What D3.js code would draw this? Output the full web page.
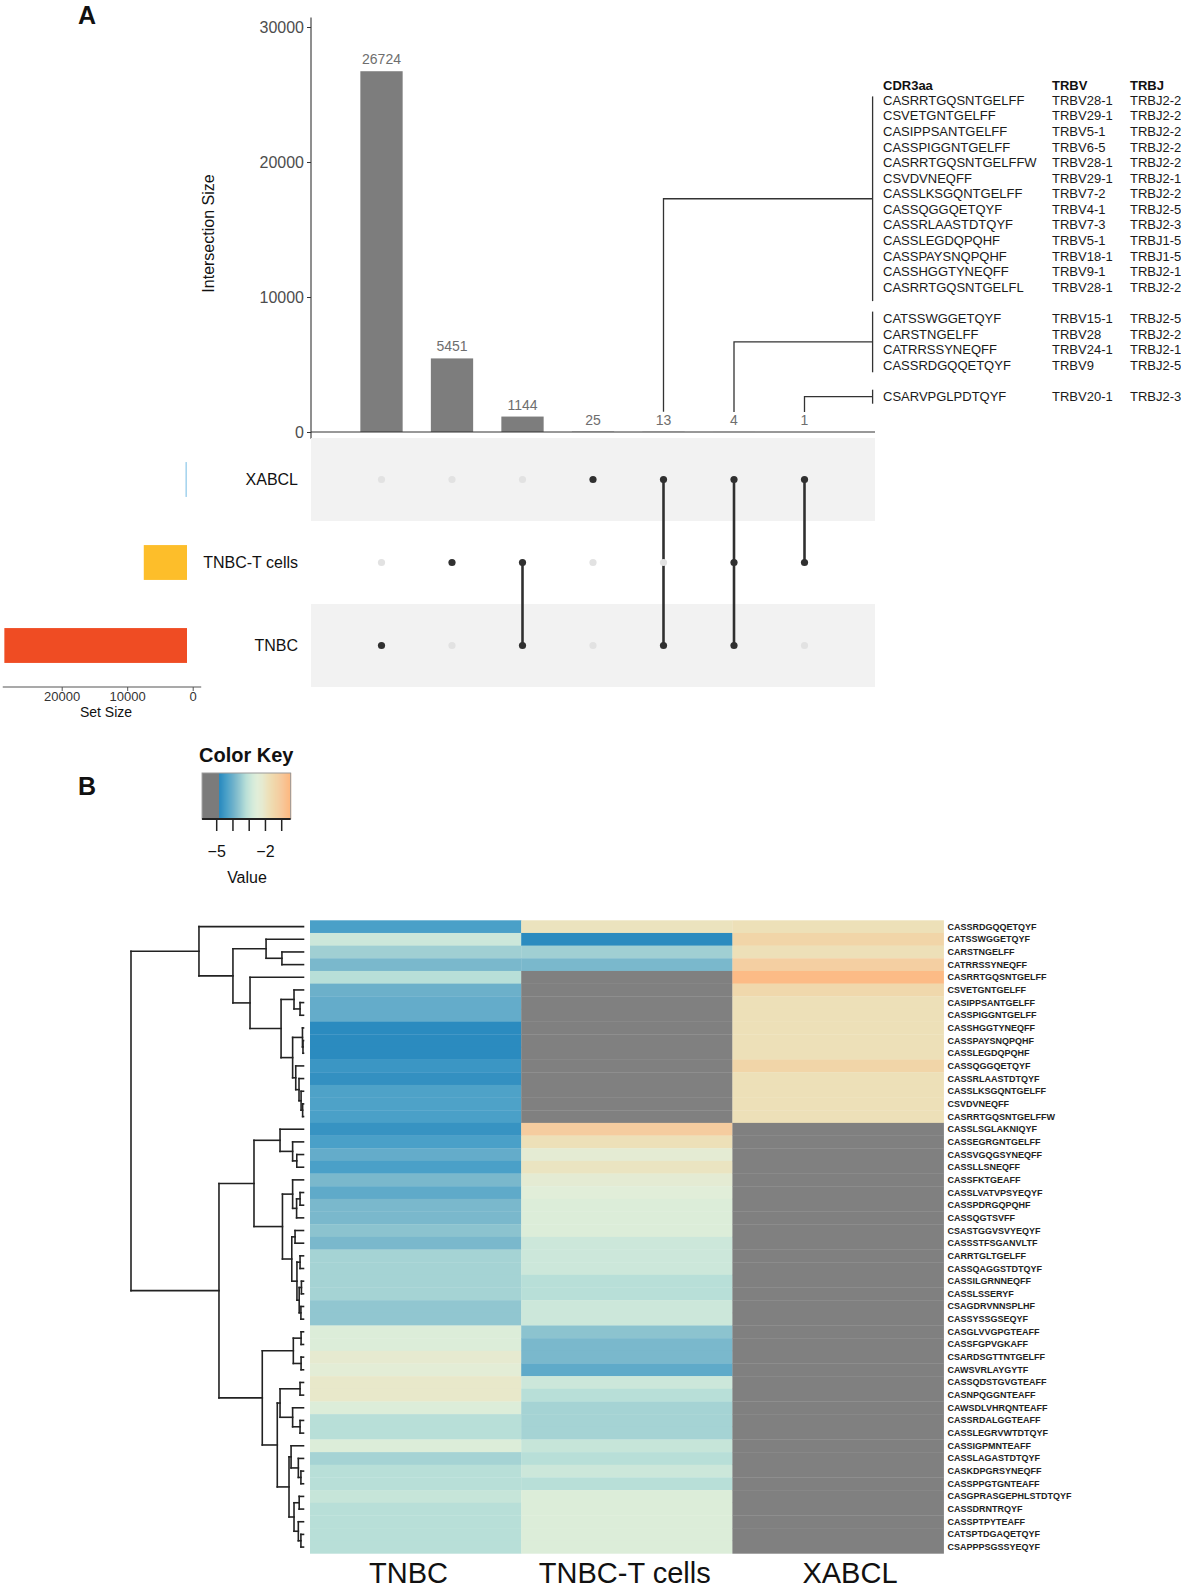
<!DOCTYPE html>
<html><head><meta charset="utf-8">
<script src="https://cdn.jsdelivr.net/npm/d3@7"></script>
<style>html,body{margin:0;padding:0;background:#fff;overflow:hidden}svg{display:block;font-family:"Liberation Sans",Arial,Helvetica,sans-serif}</style>
</head><body>
<svg id="chart" width="1181" height="1591"></svg>
<script>
// ---------------- DATA ----------------
const intersectionSizes = [26724, 5451, 1144, 25, 13, 4, 1];
const setNames = ["XABCL", "TNBC-T cells", "TNBC"];
const intersectionMembers = [
  ["TNBC"], ["TNBC-T cells"], ["TNBC-T cells", "TNBC"], ["XABCL"],
  ["XABCL", "TNBC"], ["XABCL", "TNBC-T cells", "TNBC"], ["XABCL", "TNBC-T cells"]
];
const setSizes = [43, 6600, 27885];
const setColors = ["#a8d5ee", "#fdbe2a", "#ef4c23"];
const intersectionTicks = [0, 10000, 20000, 30000];
const setSizeTicks = [0, 10000, 20000];

const tableHeader = ["CDR3aa", "TRBV", "TRBJ"];
const tableGroup13 = [
  ["CASRRTGQSNTGELFF", "TRBV28-1", "TRBJ2-2"],
  ["CSVETGNTGELFF", "TRBV29-1", "TRBJ2-2"],
  ["CASIPPSANTGELFF", "TRBV5-1", "TRBJ2-2"],
  ["CASSPIGGNTGELFF", "TRBV6-5", "TRBJ2-2"],
  ["CASRRTGQSNTGELFFW", "TRBV28-1", "TRBJ2-2"],
  ["CSVDVNEQFF", "TRBV29-1", "TRBJ2-1"],
  ["CASSLKSGQNTGELFF", "TRBV7-2", "TRBJ2-2"],
  ["CASSQGGQETQYF", "TRBV4-1", "TRBJ2-5"],
  ["CASSRLAASTDTQYF", "TRBV7-3", "TRBJ2-3"],
  ["CASSLEGDQPQHF", "TRBV5-1", "TRBJ1-5"],
  ["CASSPAYSNQPQHF", "TRBV18-1", "TRBJ1-5"],
  ["CASSHGGTYNEQFF", "TRBV9-1", "TRBJ2-1"],
  ["CASRRTGQSNTGELFL", "TRBV28-1", "TRBJ2-2"]
];
const tableGroup4 = [
  ["CATSSWGGETQYF", "TRBV15-1", "TRBJ2-5"],
  ["CARSTNGELFF", "TRBV28", "TRBJ2-2"],
  ["CATRRSSYNEQFF", "TRBV24-1", "TRBJ2-1"],
  ["CASSRDGQQETQYF", "TRBV9", "TRBJ2-5"]
];
const tableGroup1 = [
  ["CSARVPGLPDTQYF", "TRBV20-1", "TRBJ2-3"]
];

const heatColumns = ["TNBC", "TNBC-T cells", "XABCL"];
const heatRows = [
  "CASSRDGQQETQYF","CATSSWGGETQYF","CARSTNGELFF","CATRRSSYNEQFF","CASRRTGQSNTGELFF",
  "CSVETGNTGELFF","CASIPPSANTGELFF","CASSPIGGNTGELFF","CASSHGGTYNEQFF","CASSPAYSNQPQHF",
  "CASSLEGDQPQHF","CASSQGGQETQYF","CASSRLAASTDTQYF","CASSLKSGQNTGELFF","CSVDVNEQFF",
  "CASRRTGQSNTGELFFW","CASSLSGLAKNIQYF","CASSEGRGNTGELFF","CASSVGQGSYNEQFF","CASSLLSNEQFF",
  "CASSFKTGEAFF","CASSLVATVPSYEQYF","CASSPDRGQPQHF","CASSQGTSVFF","CSASTGGVSVYEQYF",
  "CASSSTFSGANVLTF","CARRTGLTGELFF","CASSQAGGSTDTQYF","CASSILGRNNEQFF","CASSLSSERYF",
  "CSAGDRVNNSPLHF","CASSYSSGSEQYF","CASGLVVGPGTEAFF","CASSFGPVGKAFF","CSARDSGTTNTGELFF",
  "CAWSVRLAYGYTF","CASSQDSTGVGTEAFF","CASNPQGGNTEAFF","CAWSDLVHRQNTEAFF","CASSRDALGGTEAFF",
  "CASSLEGRVWTDTQYF","CASSIGPMNTEAFF","CASSLAGASTDTQYF","CASKDPGRSYNEQFF","CASSPPGTGNTEAFF",
  "CASGPRASGEPHLSTDTQYF","CASSDRNTRQYF","CASSPTPYTEAFF","CATSPTDGAQETQYF","CSAPPPSGSSYEQYF"
];
const tnbcValues = [
  -4.4,-2.9,-3.45,-3.85,-3.2,-4.0,-4.1,-4.1,-4.8,-4.8,
  -4.8,-4.6,-4.7,-4.35,-4.35,-4.4,-4.65,-4.4,-4.1,-4.4,
  -3.85,-4.15,-3.85,-3.85,-3.65,-3.85,-3.4,-3.4,-3.4,-3.4,
  -3.6,-3.6,-2.6,-2.6,-2.2,-2.4,-2.1,-2.1,-2.6,-3.2,
  -3.2,-2.6,-3.4,-3.2,-3.2,-3.0,-3.2,-3.2,-3.2,-3.2
];
const tnbcTValues = [
  -1.9,-4.8,-3.45,-3.85,null,null,null,null,null,null,
  null,null,null,null,null,null,-1.1,-1.8,-2.3,-1.95,
  -2.3,-2.5,-2.6,-2.6,-2.6,-2.9,-2.9,-2.9,-3.2,-3.2,
  -2.9,-2.9,-3.65,-3.85,-3.85,-4.15,-2.9,-3.2,-3.4,-3.4,
  -3.4,-3.0,-3.2,-2.9,-3.2,-2.6,-2.6,-2.6,-2.6,-2.6
];
const xabclValues = [
  -1.8,-1.4,-1.8,-1.2,-0.6,-1.5,-1.8,-1.8,-1.8,-1.8,
  -1.8,-1.4,-1.8,-1.8,-1.8,-1.8,null,null,null,null,
  null,null,null,null,null,null,null,null,null,null,
  null,null,null,null,null,null,null,null,null,null,
  null,null,null,null,null,null,null,null,null,null
];
const keyTicks = [-5, -4, -3, -2, -1];
const keyLabels = [-5, -2];
const colorStops = [-4.8, -4.4, -4.0, -3.6, -3.2, -2.8, -2.5, -2.2, -1.8, -1.4, -1.0, -0.5];
const colorValues = ["#2b8bbf","#4aa0c8","#6cb0ca","#91c6d0","#b8dfd8","#d3eada","#e1eed9","#e6ead0","#ede0b8","#f1d5a8","#f6c99c","#fdb880"];
// row dendrogram: [height, left, right]; leaves are row indices
const rowDendrogram = [100,
  [60.6, 0, [40.9, [21.7, 1, [12.5, 2, 3]],
    [31, 4, [13, [5.5, 5, [2, 6, 7]],
      [6.3, [0.6, 8, [0.3, 9, 10]], [4.5, 11, [2.6, 12, [1.4, 13, [0.5, 14, 15]]]]]]]]],
  [49,
    [28.7,
      [13.6, 16, [6.3, 17, [3.9, 18, 19]]],
      [12.2,
        [6.3, 20, [4, [2, 21, 22], 23]],
        [6.8, [4.9, 24, 25], [3.8, [2, 26, 27], [2.5, [1.2, 28, 29], [1.5, 30, 31]]]]]],
    [23.9,
      [5.9, [1.4, 32, 33], [1.4, 34, 35]],
      [15.2,
        [13.6, [2, 36, 37], [6.3, 38, [2, 39, 40]]],
        [8.4, [7.2, 41, [3, 42, [1.5, 43, 44]]], [5.5, [2.5, 45, 46], [3, 47, [1.5, 48, 49]]]]]]]
];

// ---------------- DRAW ----------------
const svg = d3.select("#chart");
const INK = "#222";

// Panel labels
svg.append("text").attr("x", 78).attr("y", 24).attr("font-size", 25).attr("font-weight", "bold").attr("fill", "#111").text("A");
svg.append("text").attr("x", 78).attr("y", 795).attr("font-size", 25).attr("font-weight", "bold").attr("fill", "#111").text("B");

// ---- Upset: intersection bars ----
const xI = d3.scaleBand().domain(d3.range(intersectionSizes.length)).range([311, 875]).paddingInner(0.4).paddingOuter(0.7);
const yI = d3.scaleLinear().domain([0, 30000]).range([432, 27]);

const gTop = svg.append("g");
gTop.selectAll("rect.bar").data(intersectionSizes).join("rect")
  .attr("x", (d, i) => xI(i)).attr("width", xI.bandwidth())
  .attr("y", d => yI(d)).attr("height", d => yI(0) - yI(d)).attr("fill", "#7d7d7d");
gTop.selectAll("text.cnt").data(intersectionSizes).join("text")
  .attr("x", (d, i) => xI(i) + xI.bandwidth() / 2).attr("y", d => yI(d) - 7)
  .attr("text-anchor", "middle").attr("font-size", 14).attr("fill", "#6e6e6e").text(d => d);

const yAxis = d3.axisLeft(yI).tickValues(intersectionTicks).tickSize(4).tickPadding(3).tickFormat(d3.format("d"));
const gy = gTop.append("g").attr("transform", "translate(311,0)").call(yAxis);
gy.select(".domain").remove();
gy.selectAll("text").attr("font-size", 16).attr("fill", "#4d4d4d").attr("font-family", "Liberation Sans, Arial, sans-serif");
gy.selectAll("line").attr("stroke", "#333");
gTop.append("line").attr("x1", 311).attr("x2", 311).attr("y1", yI(-500)).attr("y2", yI(30700)).attr("stroke", "#333").attr("stroke-width", 1.1);
gTop.append("line").attr("x1", 311).attr("x2", 875).attr("y1", yI(0)).attr("y2", yI(0)).attr("stroke", "#333").attr("stroke-width", 1.1);
gTop.append("text").attr("transform", `translate(214,${(yI(0) + yI(30000)) / 2 + 4}) rotate(-90)`)
  .attr("text-anchor", "middle").attr("font-size", 16).attr("fill", "#111").text("Intersection Size");

// ---- Matrix ----
const yS = d3.scaleBand().domain(setNames).range([438, 687]);
const gM = svg.append("g");
gM.selectAll("rect.band").data(setNames.filter((d, i) => i % 2 === 0)).join("rect")
  .attr("x", 311).attr("width", 875 - 311).attr("y", d => yS(d)).attr("height", yS.bandwidth()).attr("fill", "#f2f2f2");
intersectionMembers.forEach((mem, i) => {
  const cx = xI(i) + xI.bandwidth() / 2;
  const ys = mem.map(s => yS(s) + yS.bandwidth() / 2);
  if (mem.length > 1) {
    gM.append("line").attr("x1", cx).attr("x2", cx).attr("y1", d3.min(ys)).attr("y2", d3.max(ys))
      .attr("stroke", "#303030").attr("stroke-width", 2.6);
  }
  setNames.forEach(s => {
    gM.append("circle").attr("cx", cx).attr("cy", yS(s) + yS.bandwidth() / 2).attr("r", 3.6)
      .attr("fill", mem.includes(s) ? "#303030" : "#e2e2e2");
  });
});
gM.selectAll("text.set").data(setNames).join("text")
  .attr("x", 298).attr("y", d => yS(d) + yS.bandwidth() / 2 + 5.5).attr("text-anchor", "end")
  .attr("font-size", 16).attr("fill", "#111").text(d => d);

// ---- Set size bars ----
const xSet = d3.scaleLinear().domain([0, 10000]).range([192.7, 127.2]);
const barShift = -5.7;
const barH = yS.bandwidth() * 0.42;
gM.selectAll("rect.setbar").data(setSizes).join("rect")
  .attr("x", d => Math.min(xSet(d), xSet(0) - 1.6) + barShift)
  .attr("width", d => Math.max(xSet(0) - xSet(d), 1.6))
  .attr("y", (d, i) => yS(setNames[i]) + yS.bandwidth() / 2 - barH / 2).attr("height", barH)
  .attr("fill", (d, i) => setColors[i]);
const gx = gM.append("g").attr("transform", "translate(0,687)")
  .call(d3.axisBottom(xSet).tickValues(setSizeTicks).tickSize(4).tickPadding(1).tickFormat(d3.format("d")));
gx.select(".domain").remove();
gx.selectAll("text").attr("font-size", 13).attr("fill", "#333").attr("font-family", "Liberation Sans, Arial, sans-serif");
gx.selectAll("line").attr("stroke", "#555");
gM.append("line").attr("x1", xSet(29000)).attr("x2", xSet(-1300)).attr("y1", 687).attr("y2", 687).attr("stroke", "#555").attr("stroke-width", 1.1);
gM.append("text").attr("x", (xSet(0) + xSet(28000)) / 2 + 5).attr("y", 717).attr("text-anchor", "middle")
  .attr("font-size", 14).attr("fill", "#111").text("Set Size");

// ---- Table of shared clonotypes ----
const tableX = [883, 1052, 1130];
const rowStep = 15.56;
const gT = svg.append("g").attr("font-size", 13).attr("fill", "#1a1a1a");
tableHeader.forEach((h, j) => gT.append("text").attr("x", tableX[j]).attr("y", 85.2).attr("dominant-baseline", "central")
  .attr("font-weight", "bold").attr("fill", "#111").text(h));
const groups = [
  { rows: tableGroup13, start: 100.4, col: 4, pad: [4, 14] },
  { rows: tableGroup4, start: 318.6, col: 5, pad: [7, 7] },
  { rows: tableGroup1, start: 396.7, col: 6, pad: [7, 7] }
];
groups.forEach(g => {
  g.rows.forEach((r, k) => r.forEach((t, j) => gT.append("text").attr("x", tableX[j]).attr("y", g.start + k * rowStep)
    .attr("dominant-baseline", "central").text(t)));
  const top = g.start - g.pad[0], bot = g.start + (g.rows.length - 1) * rowStep + g.pad[1];
  const mid = (top + bot) / 2;
  const cx = xI(g.col) + xI.bandwidth() / 2;
  const lab = yI(intersectionSizes[g.col]) - 7 - 13;
  const ln = svg.append("g").attr("stroke", "#333").attr("stroke-width", 1.3).attr("fill", "none");
  ln.append("line").attr("x1", 872.6).attr("x2", 872.6).attr("y1", top).attr("y2", bot);
  ln.append("path").attr("d", `M${cx},${lab}V${mid}H${872.6}`);
});

// ---- Color key ----
const colorScale = d3.scaleLinear().domain(colorStops).range(colorValues).clamp(true);
const keyX = d3.scaleLinear().domain([-5, -1]).range([216.7, 281.7]);
const keyTop = 773, keyBot = 819;
const gK = svg.append("g");
gK.append("text").attr("x", 199).attr("y", 762).attr("font-size", 20).attr("font-weight", "bold").attr("fill", "#111").text("Color Key");
gK.append("rect").attr("x", keyX(-5.9)).attr("y", keyTop).attr("width", keyX(-4.8) - keyX(-5.9)).attr("height", keyBot - keyTop).attr("fill", "#7b7b7b");
const keyPix = d3.range(Math.floor(keyX(-4.8)), Math.ceil(keyX(-0.45)));
gK.selectAll("rect.kp").data(keyPix).join("rect")
  .attr("x", d => d).attr("width", 1.2).attr("y", keyTop).attr("height", keyBot - keyTop)
  .attr("fill", d => colorScale(keyX.invert(d + 0.5)));
gK.append("rect").attr("x", keyX(-5.9)).attr("y", keyTop).attr("width", keyX(-0.45) - keyX(-5.9)).attr("height", keyBot - keyTop)
  .attr("fill", "none").attr("stroke", "#999").attr("stroke-width", 1);
gK.append("line").attr("x1", keyX(-5.9)).attr("x2", keyX(-0.45)).attr("y1", keyBot).attr("y2", keyBot).attr("stroke", "#222").attr("stroke-width", 2);
gK.selectAll("line.kt").data(keyTicks).join("line")
  .attr("x1", d => keyX(d)).attr("x2", d => keyX(d)).attr("y1", keyBot).attr("y2", keyBot + 12).attr("stroke", "#222").attr("stroke-width", 1.5);
gK.selectAll("text.kl").data(keyLabels).join("text")
  .attr("x", d => keyX(d)).attr("y", 857).attr("text-anchor", "middle").attr("font-size", 16).attr("fill", "#111")
  .text(d => "\u2212" + Math.abs(d));
gK.append("text").attr("x", 247).attr("y", 883).attr("text-anchor", "middle").attr("font-size", 16).attr("fill", "#111").text("Value");

// ---- Heatmap ----
const hx = d3.scaleBand().domain(heatColumns).range([310, 943.6]);
const hy = d3.scaleBand().domain(d3.range(heatRows.length)).range([920.3, 1553.4]);
const colVals = [tnbcValues, tnbcTValues, xabclValues];
const gH = svg.append("g");
heatColumns.forEach((c, j) => {
  gH.selectAll(null).data(colVals[j]).join("rect")
    .attr("x", hx(c)).attr("width", hx.bandwidth() + 0.3)
    .attr("y", (d, i) => hy(i)).attr("height", hy.bandwidth() + 0.3)
    .attr("fill", d => d === null ? "#808080" : colorScale(d));
});
gH.selectAll("text.rl").data(heatRows).join("text")
  .attr("x", 947.6).attr("y", (d, i) => hy(i) + hy.bandwidth() / 2).attr("dominant-baseline", "central")
  .attr("font-size", 9).attr("font-weight", "bold").attr("fill", "#222").text(d => d);
const colLabelShift = [-7, -2, 12];
gH.selectAll("text.cl").data(heatColumns).join("text")
  .attr("x", (d, j) => hx(d) + hx.bandwidth() / 2 + colLabelShift[j]).attr("y", 1583).attr("text-anchor", "middle")
  .attr("font-size", 29).attr("fill", "#111").text(d => d);

// ---- Row dendrogram ----
const dx = d3.scaleLinear().domain([0, 100]).range([303.5, 131]);
const gD = svg.append("g").attr("stroke", INK).attr("stroke-width", 1.6).attr("fill", "none").attr("stroke-linecap", "square");
function drawNode(node) {
  if (typeof node === "number") return { y: hy(node) + hy.bandwidth() / 2, h: 0 };
  const [h, a, b] = node;
  const ca = drawNode(a), cb = drawNode(b);
  const x = dx(h);
  gD.append("line").attr("x1", x).attr("x2", x).attr("y1", ca.y).attr("y2", cb.y);
  [ca, cb].forEach(c => gD.append("line").attr("x1", x).attr("x2", dx(c.h)).attr("y1", c.y).attr("y2", c.y));
  return { y: (ca.y + cb.y) / 2, h };
}
drawNode(rowDendrogram);
</script>
</body></html>
